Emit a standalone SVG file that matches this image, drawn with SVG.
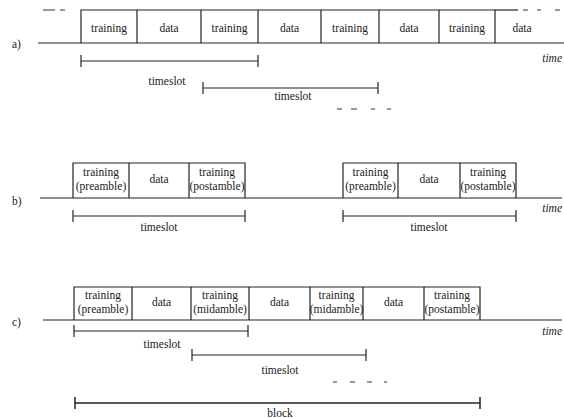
<svg xmlns="http://www.w3.org/2000/svg" width="564" height="418" viewBox="0 0 564 418" font-family="Liberation Serif, Times New Roman, DejaVu Serif, serif">
<style>
text{font-family:"Liberation Serif","Times New Roman","DejaVu Serif",serif;font-size:11.5px;fill:#1a1a1a;text-anchor:middle}
.lbl{text-anchor:start}
.time{font-style:italic;text-anchor:end}
.box{fill:none;stroke:#222;stroke-width:1.2}
.axis{fill:none;stroke:#222;stroke-width:1.2}
.br{fill:none;stroke:#222;stroke-width:1;marker-start:url(#tick);marker-end:url(#tick)}
.blk{fill:none;stroke:#222;stroke-width:1.5;marker-start:url(#tick2);marker-end:url(#tick2)}
.dash{fill:none;stroke:#333;stroke-width:1}
</style>
<defs>
<marker id="tick" markerUnits="userSpaceOnUse" viewBox="-2 -7 4 14" refX="0" refY="0" markerWidth="4" markerHeight="14" orient="auto">
<line x1="0" y1="-6" x2="0" y2="6" stroke="#222" stroke-width="1.2"/>
</marker>
<marker id="tick2" markerUnits="userSpaceOnUse" viewBox="-2 -7 4 14" refX="0" refY="0" markerWidth="4" markerHeight="14" orient="auto">
<line x1="0" y1="-6" x2="0" y2="6" stroke="#222" stroke-width="1.5"/>
</marker>
</defs>

<!-- row labels -->
<text class="lbl" x="12" y="48">a)</text>
<text class="lbl" x="12" y="205">b)</text>
<text class="lbl" x="12" y="326">c)</text>
<text class="time" x="562" y="62">time</text>
<text class="time" x="562" y="212">time</text>
<text class="time" x="562" y="335">time</text>

<g id="connectors">
<!-- time axes -->
<line class="axis" x1="38" y1="43" x2="564" y2="43"/>
<line class="axis" x1="40" y1="198" x2="562" y2="198"/>
<line class="axis" x1="43" y1="320" x2="562" y2="320"/>
<!-- brackets -->
<line class="br" x1="81" y1="61" x2="258" y2="61"/>
<line class="br" x1="203" y1="88" x2="378" y2="88"/>
<line class="br" x1="73" y1="216" x2="245" y2="216"/>
<line class="br" x1="343" y1="216" x2="516" y2="216"/>
<line class="br" x1="74" y1="331" x2="248" y2="331"/>
<line class="br" x1="192" y1="355" x2="366" y2="355"/>
<line class="blk" x1="75" y1="403" x2="480" y2="403"/>
<!-- dashes -->
<path class="dash" d="M43 10h12M60 10h5M523 10h5M537 10h4M555 10h5"/>
<path class="dash" d="M337 109h5M351 109h6M371 109h4M387 109h4"/>
<path class="dash" d="M333 382h4M350 382h5M367 382h5M384 382h3"/>
</g>

<g id="slot-labels">
<text x="167" y="85">timeslot</text>
<text x="293" y="100">timeslot</text>
<text x="159" y="231">timeslot</text>
<text x="429" y="231">timeslot</text>
<text x="162" y="348">timeslot</text>
<text x="280" y="374">timeslot</text>
<text x="280" y="417">block</text>
</g>

<!-- row a -->
<g id="a-train1"><path class="box" d="M81 43V10H137V43"/><text x="109" y="32">training</text></g>
<g id="a-data1"><path class="box" d="M137 10H201V43"/><text x="169" y="32">data</text></g>
<g id="a-train2"><path class="box" d="M201 10H258V43"/><text x="229.5" y="32">training</text></g>
<g id="a-data2"><path class="box" d="M258 10H321V43"/><text x="289.5" y="32">data</text></g>
<g id="a-train3"><path class="box" d="M321 10H379V43"/><text x="350" y="32">training</text></g>
<g id="a-data3"><path class="box" d="M379 10H439V43"/><text x="409" y="32">data</text></g>
<g id="a-train4"><path class="box" d="M439 10H495V43"/><text x="467" y="32">training</text></g>
<g id="a-data4"><path class="box" d="M495 10H518"/><text x="522" y="32">data</text></g>

<!-- row b -->
<g id="b1-pre"><path class="box" d="M73 198V163H129V198"/><text x="101" y="176">training</text><text x="101" y="190">(preamble)</text></g>
<g id="b1-data"><path class="box" d="M129 163H189V198"/><text x="159" y="183">data</text></g>
<g id="b1-post"><path class="box" d="M189 163H245V198"/><text x="217" y="176">training</text><text x="217" y="190">(postamble)</text></g>
<g id="b2-pre"><path class="box" d="M343 198V163H398V198"/><text x="370.5" y="176">training</text><text x="370.5" y="190">(preamble)</text></g>
<g id="b2-data"><path class="box" d="M398 163H460V198"/><text x="429" y="183">data</text></g>
<g id="b2-post"><path class="box" d="M460 163H516V198"/><text x="488" y="176">training</text><text x="488" y="190">(postamble)</text></g>

<!-- row c -->
<g id="c-pre"><path class="box" d="M74 320V287H132V320"/><text x="103" y="299">training</text><text x="103" y="313">(preamble)</text></g>
<g id="c-data1"><path class="box" d="M132 287H191V320"/><text x="161.5" y="306">data</text></g>
<g id="c-mid1"><path class="box" d="M191 287H249V320"/><text x="220" y="299">training</text><text x="220" y="313">(midamble)</text></g>
<g id="c-data2"><path class="box" d="M249 287H310V320"/><text x="279.5" y="306">data</text></g>
<g id="c-mid2"><path class="box" d="M310 287H363V320"/><text x="336.5" y="299">training</text><text x="336.5" y="313">(midamble)</text></g>
<g id="c-data3"><path class="box" d="M363 287H424V320"/><text x="393.5" y="306">data</text></g>
<g id="c-post"><path class="box" d="M424 287H480V320"/><text x="452" y="299">training</text><text x="452" y="313">(postamble)</text></g>
</svg>
